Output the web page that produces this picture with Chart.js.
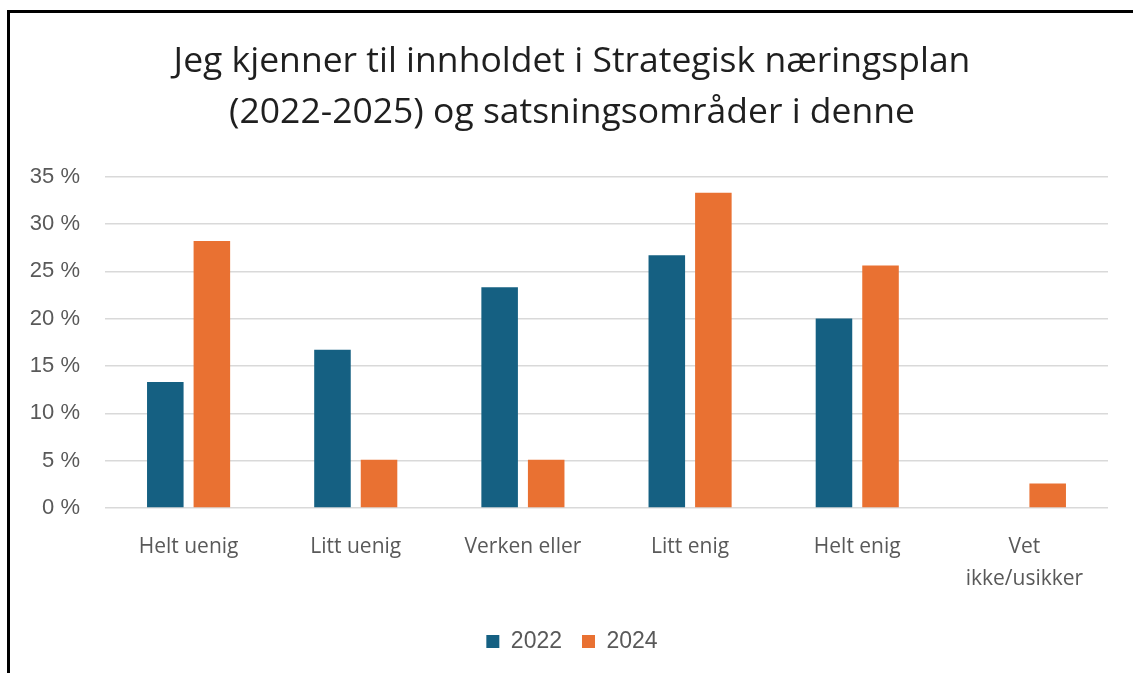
<!DOCTYPE html>
<html>
<head>
<meta charset="utf-8">
<script src="https://cdn.jsdelivr.net/npm/chart.js@4.4.1/dist/chart.umd.min.js"></script>
<style>
  html, body { margin: 0; padding: 0; background: #fff; overflow: hidden; }
  #frame { position: absolute; left: 7px; top: 10px; width: 1200px; height: 700px;
           border-left: 3px solid #000; border-top: 3px solid #000; }
  #chart { position: absolute; left: 0; top: 0; }
</style>
</head>
<body>
<div id="frame"></div>
<canvas id="chart" width="1133" height="673"></canvas>
<script>
const categories = ['Helt uenig', 'Litt uenig', 'Verken eller', 'Litt enig', 'Helt enig', ['Vet', 'ikke/usikker']];
const values2022 = [13.3, 16.7, 23.3, 26.7, 20.0, null];
const values2024 = [28.2, 5.1, 5.1, 33.3, 25.6, 2.6];
const yTicks = [0, 5, 10, 15, 20, 25, 30, 35];

const blue = '#156082';
const orange = '#E97132';

// let the y labels reach past the left layout padding (so they are not clipped)
const widenYAxis = {
    id: 'widenYAxis',
    afterLayout(chart) { chart.scales.y.left = 0; }
};

const ctx = document.getElementById('chart').getContext('2d');
new Chart(ctx, {
    type: 'bar',
    data: {
        labels: categories,
        datasets: [
            { label: '2022', data: values2022, backgroundColor: blue, categoryPercentage: 0.557, barPercentage: 0.785 },
            { label: '2024', data: values2024, backgroundColor: orange, categoryPercentage: 0.557, barPercentage: 0.785 }
        ]
    },
    plugins: [widenYAxis],
    options: {
        responsive: false,
        animation: false,
        layout: { padding: { left: 36, right: 25, top: 37, bottom: 10 } },
        plugins: {
            title: {
                display: true,
                text: ['Jeg kjenner til innholdet i Strategisk næringsplan', '(2022-2025) og satsningsområder i denne'],
                color: '#1f1f1f',
                font: { family: '"Open Sans", sans-serif', size: 35.5, weight: 'normal', lineHeight: 1.43 },
                padding: { top: 0, bottom: 38 }
            },
            legend: {
                position: 'bottom',
                labels: {
                    boxWidth: 13, boxHeight: 13, padding: 20,
                    color: '#595959',
                    font: { family: '"Liberation Sans", Arial, sans-serif', size: 23 }
                }
            },
            tooltip: { enabled: false }
        },
        scales: {
            x: {
                grid: { display: false },
                border: { display: false },
                ticks: {
                    color: '#595959', padding: 14, maxRotation: 0,
                    font: { family: '"Open Sans", sans-serif', size: 21, lineHeight: 1.57 }
                }
            },
            y: {
                min: 0, max: 35,
                afterFit: s => { s.width = 69; },
                afterBuildTicks: s => { s.ticks = yTicks.map(v => ({ value: v })); },
                grid: { color: '#d9d9d9', lineWidth: 1.5, drawTicks: false },
                border: { display: false },
                ticks: {
                    color: '#595959', padding: 25,
                    font: { family: '"Liberation Sans", Arial, sans-serif', size: 22 },
                    callback: v => v + ' %'
                }
            }
        }
    }
});
</script>
</body>
</html>
